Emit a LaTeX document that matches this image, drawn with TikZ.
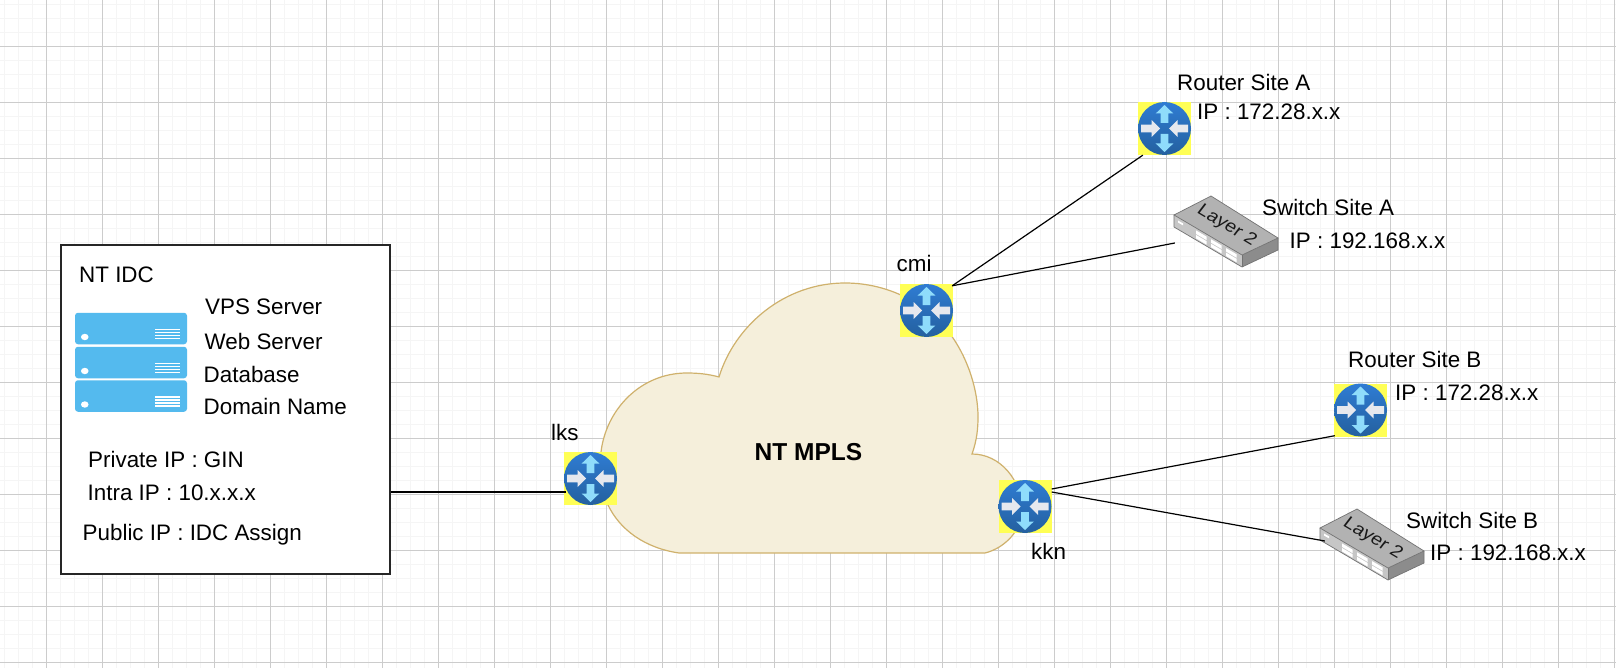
\documentclass[tikz,border=0pt]{standalone}
\usepackage{fontspec}
\setmainfont{Liberation Sans}
\usetikzlibrary{calc}
\definecolor{cloudfill}{HTML}{F5EFDB}
\definecolor{cloudline}{HTML}{CFB16C}
\definecolor{srvblue}{HTML}{54BAEE}
\definecolor{rtyellow}{HTML}{FFFF55}
\definecolor{rttop}{HTML}{2F7CD3}
\definecolor{rtbot}{HTML}{24609F}
\definecolor{rtout}{HTML}{8FDCFB}
\definecolor{rtin}{HTML}{E6E8EE}
\begin{document}
\begin{tikzpicture}[
    x=1pt, y=-1pt,
    lab/.style={anchor=base west, inner sep=0pt, font=\fontsize{22.4}{26}\selectfont},
    rtbox/.style={fill=rtyellow, inner sep=0pt, minimum size=53pt},
    swbox/.style={inner sep=0pt, minimum width=104pt, minimum height=71pt},
    srvunit/.style={fill=srvblue, rounded corners=3pt, inner sep=0pt, minimum width=112pt, minimum height=31.5pt},
    wire/.style={line width=1.2pt, black},
    routericon/.pic={
      \shade[top color=rttop, bottom color=rtbot] (0,0) circle (26.5);
      \foreach \a in {90,270}
        \fill[rotate=\a, rtout] (5.5,-3.8) -- (15,-3.8) -- (15,-8.8) -- (23.5,0) -- (15,8.8) -- (15,3.8) -- (5.5,3.8) -- cycle;
      \foreach \a in {0,180}
        \fill[rotate=\a, rtin] (23.5,-3.8) -- (13,-3.8) -- (13,-8.5) -- (4.5,0) -- (13,8.5) -- (13,3.8) -- (23.5,3.8) -- cycle;
    },
    switchicon/.pic={
      \begin{scope}[shift={(-52,-16.5)}]
        \fill[gray!45] (0,0) -- (68,40) -- (68,52) -- (0,12) -- cycle;
        \fill[black!45] (68,40) -- (104,23) -- (104,35) -- (68,52) -- cycle;
        \filldraw[fill=gray!60, draw=black!55, line width=0.7pt] (0,0) -- (37,-19) -- (104,23) -- (68,40) -- cycle;
        \draw[black!55, line width=0.7pt] (0,0) -- (0,12) -- (68,52) -- (104,35) -- (104,23);
        \draw[black!55, line width=0.7pt] (68,40) -- (68,52);
        \fill[white] (4,5.5) -- (9,8.4) -- (9,10.4) -- (4,7.5) -- cycle;
        \foreach \t in {22,37,52}
          \foreach \v in {2.5,7}
            \fill[white] (\t,{0.588*\t+\v}) -- ({\t+10.5},{0.588*(\t+10.5)+\v}) -- ({\t+10.5},{0.588*(\t+10.5)+\v+3.5}) -- (\t,{0.588*\t+\v+3.5}) -- cycle;
        \node[inner sep=0pt, text=black!90, font=\fontsize{19.5}{20}\selectfont, transform shape,
              cm={0.86,-0.51,0.55,0.72,(52.7,10.7)}] (swtext) at (0,0) {Layer 2};
      \end{scope}
    },
]
  \useasboundingbox (0,0) rectangle (1616,668);
  \fill[white] (0,0) rectangle (1616,668);
  % ---------------- page grid ----------------
  \begin{scope}[shift={(0.5,0.5)}]
    \foreach \gx in {4,18,...,1612} \draw[gray!8, line width=1.5pt] (\gx,-1) -- (\gx,668);
    \foreach \gy in {4,18,...,664} \draw[gray!8, line width=1.5pt] (-1,\gy) -- (1616,\gy);
    \foreach \gx in {46,102,...,1614} \draw[gray!40, line width=1pt] (\gx,-1) -- (\gx,668);
    \foreach \gy in {46,102,...,662} \draw[gray!40, line width=1pt] (-1,\gy) -- (1616,\gy);
  \end{scope}

  % ---------------- cloud ----------------
  \draw[fill=cloudfill, draw=cloudline, line width=1.2pt]
    (679,553) -- (985,553)
    .. controls (1005,548) and (1022,530) .. (1022,510)
    .. controls (1022,480) and (1000,454) .. (972,454)
    .. controls (977,440) and (978,428) .. (978,417)
    .. controls (978,390) and (968,360) .. (953,338)
    .. controls (930,305) and (890,283) .. (845,283)
    .. controls (785,283) and (735,325) .. (719,377)
    .. controls (708,374) and (698,373) .. (687,373)
    .. controls (640,373) and (606,410) .. (601,452)
    .. controls (599,470) and (602,490) .. (608,505)
    .. controls (620,530) and (645,548) .. (679,553) -- cycle;
  \node[anchor=base west, inner sep=0pt, font=\bfseries\fontsize{24.5}{28}\selectfont] (mpls) at (754.5,460) {NT MPLS};

  % ---------------- data centre box ----------------
  \node[draw=black!85, fill=white, line width=1.4pt, inner sep=0pt, minimum width=329pt, minimum height=329pt] (idc) at (225.5,409.5) {};
  \node[lab] (idcT) at (79,283) {NT IDC};
  \node[srvunit] (srvA) at (131,328.5) {};
  \node[srvunit] (srvB) at (131,362.5) {};
  \node[srvunit] (srvC) at (131,396) {};
  \foreach \n in {srvA,srvB,srvC} {
    \fill[white] ([shift={(10,8.5)}]\n.west) ellipse (3.8 and 3.2);
    \foreach \d in {0,3,6,9}
      \draw[white, line width=1.3pt] ([shift={(-32,{1+\d})}]\n.east) -- ([shift={(-7,{1+\d})}]\n.east);
  }
  \node[lab] (vps)  at (205,314) {VPS Server};
  \node[lab] (web)  at (204.5,349) {Web Server};
  \node[lab] (db)   at (203.5,382) {Database};
  \node[lab] (dom)  at (203.5,414) {Domain Name};
  \node[lab] (priv) at (88,467.5) {Private IP : GIN};
  \node[lab] (intr) at (87.5,500) {Intra IP : 10.x.x.x};
  \node[lab] (pub)  at (82.5,540) {Public IP : IDC Assign};

  % ---------------- routers and switches ----------------
  \node[rtbox] (lks) at (590.5,478.5) {};
  \node[rtbox] (cmi) at (926.5,310.5) {};
  \node[rtbox] (kkn) at (1025,506.5) {};
  \node[rtbox] (rtA) at (1164.5,128.5) {};
  \node[rtbox] (rtB) at (1360.5,410) {};
  \foreach \n in {lks,cmi,kkn,rtA,rtB} \pic at (\n) {routericon};
  \node[swbox] (swA) at (1226,231.5) {};
  \node[swbox] (swB) at (1372,544.5) {};
  \pic at (swA) {switchicon};
  \pic at (swB) {switchicon};

  \node[lab] (lksT) at (551,440) {lks};
  \node[lab] (cmiT) at (896.5,272) {cmi};
  \node[lab] (kknT) at (1031,559) {kkn};
  \node[lab] (rtAT) at (1177,91) {Router Site A};
  \node[lab] (rtAI) at (1197,120) {IP : 172.28.x.x};
  \node[lab] (swAT) at (1262,216) {Switch Site A};
  \node[lab] (swAI) at (1289.5,249) {IP : 192.168.x.x};
  \node[lab] (rtBT) at (1348,367) {Router Site B};
  \node[lab] (rtBI) at (1395,400) {IP : 172.28.x.x};
  \node[lab] (swBT) at (1406,528) {Switch Site B};
  \node[lab] (swBI) at (1430,560) {IP : 192.168.x.x};

  % ---------------- connectors ----------------
  \draw[wire] ([shift={(0,82.5)}]idc.east) -- ([shift={(2,13.5)}]lks.west);
  \draw[wire] ([shift={(-1,2)}]cmi.north east) -- ([shift={(5,0)}]rtA.south west);
  \draw[wire] ([shift={(-1,2)}]cmi.north east) -- ([shift={(1,11.5)}]swA.west);
  \draw[wire] ([shift={(0,-17.5)}]kkn.east) -- ([shift={(1,-1)}]rtB.south west);
  \draw[wire] ([shift={(0,-14.5)}]kkn.east) -- ([shift={(5,-3.5)}]swB.west);
\end{tikzpicture}
\end{document}
